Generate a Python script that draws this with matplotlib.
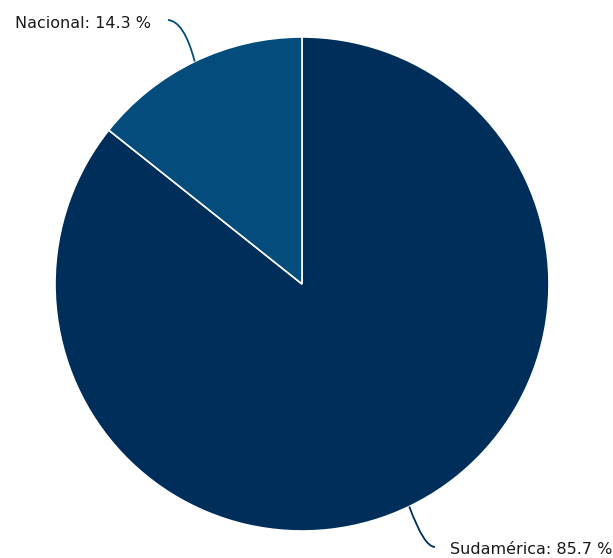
import numpy as np
import matplotlib.pyplot as plt
from matplotlib.path import Path
from matplotlib.patches import PathPatch

plt.rcParams['font.family'] = ['DejaVu Sans']

# Datos
categorias = ['Sudamérica', 'Nacional']
valores = [85.7, 14.3]
colores = ['#002e5b', '#034c7b']

W, H = 613, 558
cx, cy, r = 302, H - 284, 247

fig = plt.figure(figsize=(W / 100, H / 100), dpi=100)
ax = fig.add_axes([0, 0, 1, 1])
ax.set_xlim(0, W)
ax.set_ylim(0, H)
ax.axis('off')

wedges, _ = ax.pie(valores, colors=colores, startangle=90, counterclock=False,
                   center=(cx, cy), radius=r,
                   wedgeprops=dict(edgecolor='white', linewidth=1.2))
ax.set_xlim(0, W)
ax.set_ylim(0, H)

# posiciones de las etiquetas (en pixeles desde arriba)
etiquetas = {
    'Nacional': dict(xy=(151, 24), ha='right', fin=(168, 20), ctrl=(184, 21)),
    'Sudamérica': dict(xy=(450, 549), ha='left', fin=(435, 547), ctrl=(424, 547)),
}

for w, cat, val in zip(wedges, categorias, valores):
    ang = np.deg2rad((w.theta1 + w.theta2) / 2)
    ex, ey = cx + r * np.cos(ang), cy + r * np.sin(ang)
    e = etiquetas[cat]
    fx, fy = e['fin'][0], H - e['fin'][1]
    kx, ky = e['ctrl'][0], H - e['ctrl'][1]
    p = Path([(ex, ey), (kx, ky), (fx, fy)], [Path.MOVETO, Path.CURVE3, Path.CURVE3])
    ax.add_patch(PathPatch(p, fill=False, edgecolor=w.get_facecolor(), lw=1.3))
    ax.text(e['xy'][0], H - e['xy'][1], f'{cat}: {val} %', ha=e['ha'], va='center',
            fontsize=11.5, color='#1a1a1a')

fig.savefig('out.png', dpi=100)
